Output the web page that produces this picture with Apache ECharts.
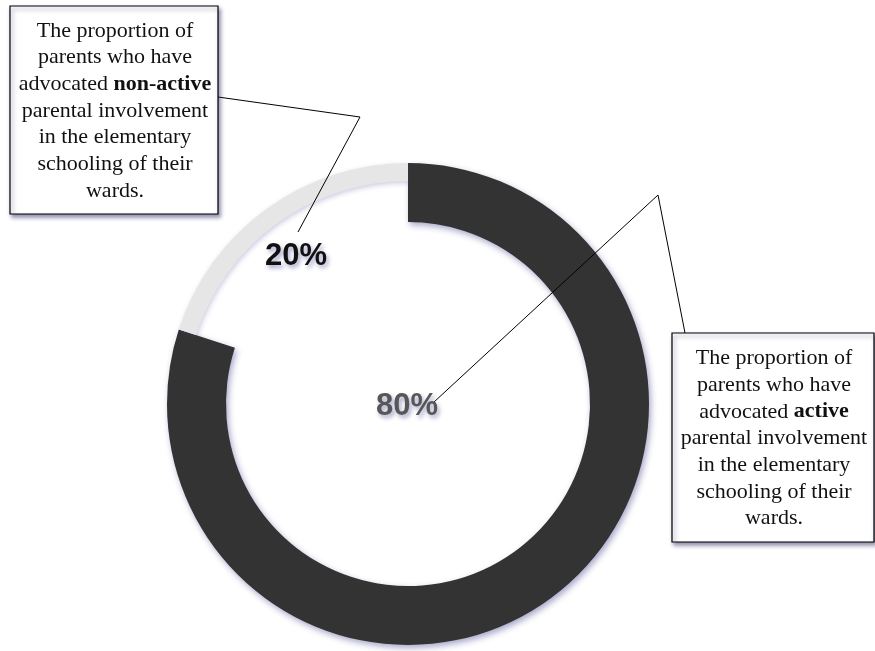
<!DOCTYPE html>
<html>
<head>
<meta charset="utf-8">
<script src="https://cdn.jsdelivr.net/npm/echarts@6/dist/echarts.min.js"></script>
<style>html,body{margin:0;padding:0;background:#fff}#c{width:875px;height:651px}</style>
</head>
<body>
<div id="c"></div>
<script>
const categories = ['active', 'non-active'];
const values = [80, 20];
const boxTexts = [
  'The proportion of\nparents who have\nadvocated {b|non-active}\nparental involvement\nin the elementary\nschooling of their\nwards.',
  'The proportion of\nparents who have\nadvocated {b|active}\nparental involvement\nin the elementary\nschooling of their\nwards.'
];

const chart = echarts.init(document.getElementById('c'));
const shadow = {shadowBlur: 6, shadowColor: 'rgba(60,60,140,0.45)', shadowOffsetX: 2, shadowOffsetY: 3};
const serif = '"Liberation Serif", "Times New Roman", serif';
const txtShadow = {textShadowColor: 'rgba(60,60,140,0.45)', textShadowBlur: 4, textShadowOffsetX: 2, textShadowOffsetY: 3};

function box(x, y, w, h, text) {
  return [
    {type: 'rect', shape: {x: x, y: y, width: w, height: h},
     style: Object.assign({fill: '#fff', stroke: '#000', lineWidth: 1.2}, {shadowBlur: 4, shadowColor: 'rgba(50,50,110,0.55)', shadowOffsetX: 2, shadowOffsetY: 3}), z: 10},
    {type: 'text', x: x + w / 2 + 1, y: y + h / 2 + 1, z: 11,
     style: {text: text, align: 'center', verticalAlign: 'middle', font: '22px ' + serif,
             fill: '#111', lineHeight: 26.7,
             rich: {b: {fontWeight: 'bold', fontSize: 22, fontFamily: serif, lineHeight: 26.7, fill: '#111'}}}}
  ];
}

chart.setOption({
  animation: false,
  series: [
    {
      type: 'pie', center: [408, 404], radius: [182, 241], startAngle: 90, clockwise: true,
      silent: true, label: {show: false}, labelLine: {show: false},
      data: [
        {name: categories[0], value: values[0], itemStyle: Object.assign({color: '#333333'}, shadow)},
        {name: categories[1], value: values[1], itemStyle: {color: 'rgba(0,0,0,0)'}}
      ]
    },
    {
      type: 'pie', center: [408, 404], radius: [223, 241], startAngle: 90, clockwise: true,
      silent: true, label: {show: false}, labelLine: {show: false},
      data: [
        {name: categories[0], value: values[0], itemStyle: {color: 'rgba(0,0,0,0)'}},
        {name: categories[1], value: values[1], itemStyle: {color: '#e6e6e6', shadowBlur: 5, shadowColor: 'rgba(60,60,140,0.25)', shadowOffsetX: 1, shadowOffsetY: 2}}
      ]
    }
  ],
  graphic: [
    {type: 'text', x: 296, y: 256, z: 12,
     style: Object.assign({text: values[1] + '%', align: 'center', verticalAlign: 'middle',
            font: 'bold 31px "Liberation Sans", Arial, sans-serif', fill: '#111'}, txtShadow)},
    {type: 'text', x: 407, y: 406, z: 12,
     style: Object.assign({text: values[0] + '%', align: 'center', verticalAlign: 'middle',
            font: 'bold 31px "Liberation Sans", Arial, sans-serif', fill: '#575757'}, txtShadow)},
    {type: 'polyline', shape: {points: [[218, 97], [360, 117], [298, 232]]}, style: {stroke: '#000', lineWidth: 1, fill: null}, z: 9},
    {type: 'polyline', shape: {points: [[434, 402], [658, 195], [685, 333]]}, style: {stroke: '#000', lineWidth: 1, fill: null}, z: 9}
  ].concat(box(10, 6, 208, 208, boxTexts[0])).concat(box(672, 333, 202, 209, boxTexts[1]))
});
</script>
</body>
</html>
